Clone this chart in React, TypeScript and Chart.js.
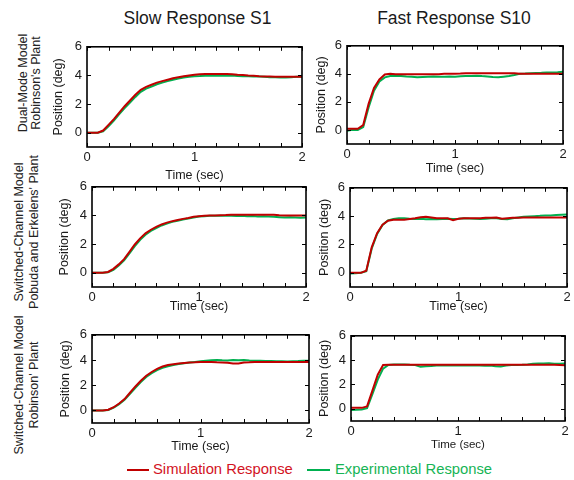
import React, { useEffect, useRef } from 'react';
import { Chart, registerables } from 'chart.js';

Chart.register(...registerables);

// ---------- data ----------
const TIME = [
  0, 0.05, 0.1, 0.15, 0.2, 0.25, 0.3, 0.35, 0.4, 0.45, 0.5, 0.55, 0.6, 0.65, 0.7, 0.75, 0.8, 0.85, 0.9, 0.95,
  1.0, 1.05, 1.1, 1.15, 1.2, 1.25, 1.3, 1.35, 1.4, 1.45, 1.5, 1.55, 1.6, 1.65, 1.7, 1.75, 1.8, 1.85, 1.9, 1.95, 2.0,
];

// Row 1: Dual-Mode Model, Robinson's Plant
const SIM_SLOW_DUAL = [
  0, 0, 0, 0.15, 0.55, 0.95, 1.4, 1.85, 2.25, 2.65, 3.0, 3.2, 3.35, 3.5, 3.6, 3.7, 3.8, 3.88, 3.95, 4.0,
  4.05, 4.08, 4.1, 4.1, 4.1, 4.1, 4.1, 4.08, 4.05, 4.03, 4.0, 3.98, 3.95, 3.93, 3.92, 3.9, 3.9, 3.9, 3.9, 3.9, 3.9,
];
const EXP_SLOW_DUAL = [
  0, 0, 0, 0.1, 0.45, 0.85, 1.3, 1.72, 2.1, 2.5, 2.85, 3.08, 3.22, 3.38, 3.5, 3.6, 3.7, 3.78, 3.85, 3.9,
  3.95, 3.96, 3.98, 3.97, 4.0, 3.98, 3.97, 3.99, 3.96, 3.95, 3.95, 3.93, 3.92, 3.9, 3.88, 3.87, 3.85, 3.86, 3.88, 3.9, 3.9,
];
const SIM_FAST_DUAL = [
  0.08, 0.08, 0.08, 0.35, 1.86, 3.0, 3.6, 3.95, 4.0, 3.98, 3.97, 3.97, 3.97, 3.98, 3.98, 3.98, 3.98, 3.98, 4.0, 4.0,
  4.0, 4.02, 4.05, 4.05, 4.05, 4.05, 4.05, 4.05, 4.05, 4.05, 4.05, 4.05, 4.0, 4.0, 4.0, 4.0, 4.0, 4.0, 4.0, 4.0, 4.0,
];
const EXP_FAST_DUAL = [
  -0.05, 0.02, 0.0, 0.2, 1.6, 2.8, 3.45, 3.75, 3.85, 3.87, 3.85, 3.82, 3.8, 3.75, 3.78, 3.8, 3.82, 3.8, 3.8, 3.82,
  3.8, 3.83, 3.85, 3.85, 3.87, 3.84, 3.82, 3.78, 3.75, 3.8, 3.85, 3.92, 4.0, 4.02, 4.05, 4.07, 4.08, 4.1, 4.1, 4.12, 4.15,
];

// Row 2: Switched-Channel Model, Pobuda and Erkelens' Plant
const SIM_SLOW_POBUDA = [
  0, 0, 0, 0.05, 0.27, 0.58, 0.95, 1.45, 1.97, 2.4, 2.75, 3.0, 3.2, 3.37, 3.5, 3.6, 3.68, 3.76, 3.82, 3.9,
  3.95, 3.98, 4.0, 4.0, 4.02, 4.03, 4.05, 4.05, 4.05, 4.05, 4.05, 4.05, 4.05, 4.05, 4.05, 4.02, 4.0, 4.0, 4.0, 4.0, 4.0,
];
const EXP_SLOW_POBUDA = [
  0, 0, 0, 0.03, 0.2, 0.5, 0.87, 1.35, 1.85, 2.3, 2.65, 2.92, 3.12, 3.3, 3.43, 3.55, 3.63, 3.72, 3.78, 3.85,
  3.92, 3.95, 3.97, 3.97, 3.98, 3.97, 3.98, 3.96, 3.97, 3.95, 3.96, 3.93, 3.94, 3.92, 3.9, 3.88, 3.85, 3.87, 3.85, 3.83, 3.85,
];
const SIM_FAST_POBUDA = [
  0, 0, 0, 0.15, 1.8, 2.8, 3.4, 3.68, 3.75, 3.75, 3.75, 3.8, 3.85, 3.92, 3.95, 3.9, 3.85, 3.85, 3.85, 3.72,
  3.82, 3.85, 3.85, 3.85, 3.85, 3.88, 3.88, 3.9, 3.82, 3.85, 3.88, 3.88, 3.9, 3.9, 3.9, 3.9, 3.9, 3.9, 3.9, 3.9, 3.9,
];
const EXP_FAST_POBUDA = [
  -0.05, -0.03, 0.0, 0.12, 1.7, 2.75, 3.38, 3.7, 3.8, 3.85, 3.85, 3.82, 3.8, 3.82, 3.78, 3.8, 3.78, 3.8, 3.82, 3.8,
  3.82, 3.85, 3.83, 3.82, 3.8, 3.82, 3.85, 3.85, 3.8, 3.78, 3.85, 3.9, 3.95, 3.98, 4.0, 4.02, 4.05, 4.05, 4.08, 4.1, 4.12,
];

// Row 3: Switched-Channel Model, Robinson' Plant
const SIM_SLOW_ROBINSON = [
  0, 0, 0, 0.05, 0.25, 0.55, 0.9, 1.4, 1.9, 2.35, 2.75, 3.05, 3.3, 3.48, 3.6, 3.67, 3.72, 3.76, 3.8, 3.82,
  3.85, 3.85, 3.85, 3.82, 3.8, 3.78, 3.72, 3.72, 3.8, 3.82, 3.85, 3.85, 3.85, 3.85, 3.85, 3.85, 3.85, 3.85, 3.85, 3.85, 3.85,
];
const EXP_SLOW_ROBINSON = [
  0, 0, 0, 0.03, 0.22, 0.5, 0.85, 1.32, 1.8, 2.25, 2.65, 2.95, 3.2, 3.38, 3.5, 3.6, 3.68, 3.75, 3.8, 3.85,
  3.9, 3.95, 3.98, 4.0, 3.98, 3.97, 4.0, 3.98, 4.0, 3.97, 3.95, 3.95, 3.93, 3.92, 3.9, 3.9, 3.88, 3.9, 3.92, 3.95, 3.95,
];
const SIM_FAST_ROBINSON = [
  0.08, 0.08, 0.08, 0.2, 1.5, 2.8, 3.6, 3.62, 3.62, 3.62, 3.62, 3.62, 3.62, 3.62, 3.62, 3.62, 3.62, 3.62, 3.62, 3.62,
  3.62, 3.62, 3.62, 3.62, 3.62, 3.62, 3.62, 3.62, 3.62, 3.62, 3.62, 3.62, 3.62, 3.62, 3.62, 3.62, 3.62, 3.62, 3.62, 3.6, 3.58,
];
const EXP_FAST_ROBINSON = [
  -0.1, -0.08, -0.05, 0.05, 1.2, 2.4, 3.3, 3.6, 3.65, 3.65, 3.65, 3.62, 3.6, 3.45, 3.5, 3.52, 3.55, 3.55, 3.55, 3.55,
  3.55, 3.55, 3.57, 3.55, 3.55, 3.53, 3.55, 3.5, 3.48, 3.55, 3.6, 3.6, 3.62, 3.65, 3.7, 3.72, 3.72, 3.75, 3.7, 3.7, 3.72,
];

const X_TICK_MARKS = [0, 0.2, 0.4, 0.6, 0.8, 1, 1.2, 1.4, 1.6, 1.8, 2];
const X_TICK_LABELS = [0, 1, 2];
const Y_TICKS = [0, 2, 4, 6];
const X_MIN = 0;
const X_MAX = 2;
const Y_MIN = -1;
const Y_MAX = 6;

const COLUMN_TITLES = ['Slow Response S1', 'Fast Response S10'];
const ROW_LABELS = [
  ['Dual-Mode Model', "Robinson's Plant"],
  ['Switched-Channel Model', "Pobuda and Erkelens' Plant"],
  ['Switched-Channel Model', "Robinson' Plant"],
];
const X_TITLE = 'Time (sec)';
const Y_TITLE = 'Position (deg)';
const SERIES_NAMES = ['Simulation Response', 'Experimental Response'];

// ---------- style ----------
const FONT = '"Liberation Sans", Arial, Helvetica, sans-serif';
const RED = '#c00000';
const GREEN = '#00b050';
const RED_TEXT = '#d2121e';
const GREEN_TEXT = '#16b455';
const TEXT = '#1a1a1a';

type Box = { L: number; T: number; R: number; B: number };
type PanelSpec = {
  sim: number[];
  exp: number[];
  area: Box;
  yTitleX: number;
  xTitleY: number;
  xTitleSize: number;
};

const PANELS: PanelSpec[] = [
  { sim: SIM_SLOW_DUAL, exp: EXP_SLOW_DUAL, area: { L: 87, T: 44, R: 302, B: 147 }, yTitleX: 58, xTitleY: 175, xTitleSize: 12.5 },
  { sim: SIM_FAST_DUAL, exp: EXP_FAST_DUAL, area: { L: 347, T: 43, R: 563, B: 144 }, yTitleX: 321, xTitleY: 168, xTitleSize: 12.5 },
  { sim: SIM_SLOW_POBUDA, exp: EXP_SLOW_POBUDA, area: { L: 92, T: 184, R: 306, B: 287 }, yTitleX: 64, xTitleY: 306.5, xTitleSize: 12.5 },
  { sim: SIM_FAST_POBUDA, exp: EXP_FAST_POBUDA, area: { L: 350, T: 185, R: 567, B: 287 }, yTitleX: 324, xTitleY: 306.5, xTitleSize: 12.5 },
  { sim: SIM_SLOW_ROBINSON, exp: EXP_SLOW_ROBINSON, area: { L: 92, T: 332, R: 309, B: 423 }, yTitleX: 65.5, xTitleY: 446.5, xTitleSize: 12.5 },
  { sim: SIM_FAST_ROBINSON, exp: EXP_FAST_ROBINSON, area: { L: 351, T: 333, R: 565, B: 421 }, yTitleX: 324.5, xTitleY: 445, xTitleSize: 11.5 },
];

const PAD_TOP = 10;
const PAD_RIGHT = 10;
const Y_TITLE_SIZE = 12.5;

const framePlugin = {
  id: 'frame',
  afterDraw(chart: any) {
    const { ctx, chartArea: a, scales } = chart;
    const x = scales.x;
    const y = scales.y;
    ctx.save();
    ctx.strokeStyle = '#000';
    ctx.lineWidth = 1;
    ctx.beginPath();
    X_TICK_MARKS.forEach((v) => {
      const px = Math.round(x.getPixelForValue(v)) + 0.5;
      ctx.moveTo(px, a.bottom);
      ctx.lineTo(px, a.bottom - 4);
      ctx.moveTo(px, a.top);
      ctx.lineTo(px, a.top + 4);
    });
    Y_TICKS.forEach((v) => {
      const py = Math.round(y.getPixelForValue(v)) + 0.5;
      ctx.moveTo(a.left, py);
      ctx.lineTo(a.left + 4, py);
      ctx.moveTo(a.right, py);
      ctx.lineTo(a.right - 4, py);
    });
    ctx.stroke();
    ctx.lineWidth = 1.6;
    ctx.strokeRect(a.left, a.top, a.right - a.left, a.bottom - a.top);
    ctx.restore();
  },
};

function Panel({ spec }: { spec: PanelSpec }) {
  const ref = useRef<HTMLCanvasElement | null>(null);
  const { area, yTitleX, xTitleY, xTitleSize } = spec;
  const yLh = Y_TITLE_SIZE * 1.2;
  const xLh = xTitleSize * 1.2;
  const left = Math.round(yTitleX - yLh / 2);
  const top = area.T - PAD_TOP;
  const width = area.R + PAD_RIGHT - left;
  const bottom = Math.round(xTitleY + xLh / 2);
  const height = bottom - top;
  const yAxisWidth = area.L - left;
  const xAxisHeight = bottom - area.B;

  useEffect(() => {
    if (!ref.current) return;
    const chart = new Chart(ref.current, {
      type: 'line',
      data: {
        datasets: [
          {
            label: SERIES_NAMES[0],
            data: TIME.map((t, i) => ({ x: t, y: spec.sim[i] })),
            borderColor: RED,
            borderWidth: 2,
            pointRadius: 0,
            tension: 0,
            fill: false,
          },
          {
            label: SERIES_NAMES[1],
            data: TIME.map((t, i) => ({ x: t, y: spec.exp[i] })),
            borderColor: GREEN,
            borderWidth: 2,
            pointRadius: 0,
            tension: 0,
            fill: false,
          },
        ],
      },
      options: {
        animation: false,
        responsive: false,
        maintainAspectRatio: false,
        devicePixelRatio: 1,
        layout: { padding: { top: PAD_TOP, right: PAD_RIGHT, left: 0, bottom: 0 } },
        plugins: { legend: { display: false }, tooltip: { enabled: false }, title: { display: false } },
        events: [],
        scales: {
          x: {
            type: 'linear',
            min: X_MIN,
            max: X_MAX,
            grid: { display: false, drawTicks: false },
            border: { display: false },
            afterBuildTicks: (s: any) => {
              s.ticks = X_TICK_MARKS.map((v) => ({ value: v }));
            },
            afterFit: (s: any) => {
              s.height = xAxisHeight;
            },
            ticks: {
              autoSkip: false,
              maxRotation: 0,
              padding: 3,
              color: TEXT,
              font: { family: FONT, size: 13 },
              callback: (v: any) => (X_TICK_LABELS.includes(Number(v)) ? String(v) : ''),
            },
            title: {
              display: true,
              text: X_TITLE,
              color: TEXT,
              padding: 0,
              font: { family: FONT, size: xTitleSize, lineHeight: 1.2 },
            },
          },
          y: {
            type: 'linear',
            min: Y_MIN,
            max: Y_MAX,
            grid: { display: false, drawTicks: false },
            border: { display: false },
            afterBuildTicks: (s: any) => {
              s.ticks = Y_TICKS.map((v) => ({ value: v }));
            },
            afterFit: (s: any) => {
              s.width = yAxisWidth;
            },
            ticks: {
              padding: 5,
              color: TEXT,
              font: { family: FONT, size: 13 },
              callback: (v: any) => String(v),
            },
            title: {
              display: true,
              text: Y_TITLE,
              color: TEXT,
              padding: 0,
              font: { family: FONT, size: Y_TITLE_SIZE, lineHeight: 1.2 },
            },
          },
        },
      },
      plugins: [framePlugin],
    } as any);
    return () => chart.destroy();
  }, []);

  return (
    <canvas
      ref={ref}
      width={width}
      height={height}
      style={{ position: 'absolute', left, top, width, height }}
    />
  );
}

function baselineTop(baseline: number, size: number) {
  return baseline - 0.8465 * size;
}

export default function App() {
  const titleSize = 17.5;
  const legendSize = 14.8;
  const rowSize = 12.5;
  const rowCenters = [
    { y: 83, x1: 22.5, x2: 35.5 },
    { y: 232, x1: 18.5, x2: 33.5 },
    { y: 385, x1: 18.5, x2: 33.5 },
  ];
  const titleCenters = [197.5, 454];
  return (
    <div
      style={{
        position: 'absolute',
        left: 0,
        top: 0,
        width: 574,
        height: 480,
        background: '#fff',
        fontFamily: FONT,
        overflow: 'hidden',
      }}
    >
      {COLUMN_TITLES.map((t, i) => (
        <div
          key={t}
          style={{
            position: 'absolute',
            left: titleCenters[i] - 120,
            width: 240,
            textAlign: 'center',
            top: baselineTop(25, titleSize),
            fontSize: titleSize,
            lineHeight: `${titleSize}px`,
            color: TEXT,
            whiteSpace: 'nowrap',
          }}
        >
          {t}
        </div>
      ))}
      {ROW_LABELS.map((lines, r) =>
        lines.map((line, k) => (
          <div
            key={`${r}-${k}`}
            style={{
              position: 'absolute',
              left: k === 0 ? rowCenters[r].x1 : rowCenters[r].x2,
              top: rowCenters[r].y,
              transform: 'translate(-50%, -50%) rotate(-90deg)',
              fontSize: rowSize,
              lineHeight: '15px',
              color: '#222',
              whiteSpace: 'nowrap',
            }}
          >
            {line}
          </div>
        ))
      )}
      {PANELS.map((p, i) => (
        <Panel key={i} spec={p} />
      ))}
      {/* legend */}
      <div style={{ position: 'absolute', left: 127, top: 469, width: 22, height: 2, background: RED }} />
      <div
        style={{
          position: 'absolute',
          left: 153,
          top: baselineTop(474.3, legendSize),
          fontSize: legendSize,
          lineHeight: `${legendSize}px`,
          color: RED_TEXT,
          whiteSpace: 'nowrap',
        }}
      >
        {SERIES_NAMES[0]}
      </div>
      <div style={{ position: 'absolute', left: 307, top: 469, width: 23, height: 2, background: GREEN }} />
      <div
        style={{
          position: 'absolute',
          left: 335,
          top: baselineTop(474.3, legendSize),
          fontSize: legendSize,
          lineHeight: `${legendSize}px`,
          color: GREEN_TEXT,
          whiteSpace: 'nowrap',
        }}
      >
        {SERIES_NAMES[1]}
      </div>
    </div>
  );
}
